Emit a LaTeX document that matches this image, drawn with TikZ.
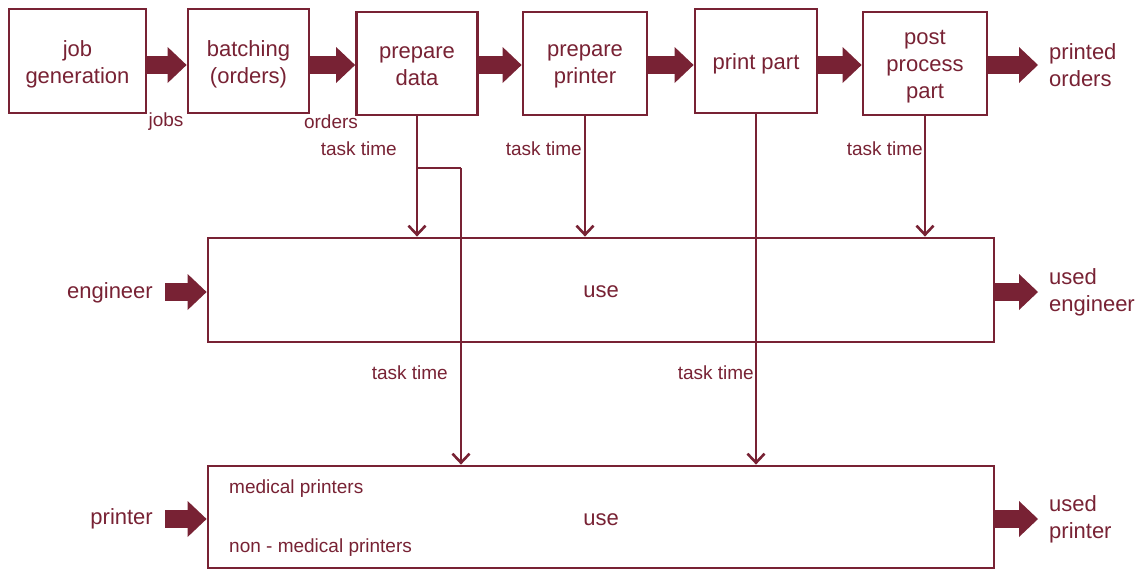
\documentclass[tikz,border=0pt]{standalone}
\usepackage{fontspec}
\setmainfont{Liberation Sans}
\usetikzlibrary{arrows.meta}
\definecolor{mar}{RGB}{120,34,52}
\tikzset{
  box/.style={draw=mar, line width=2.8pt, fill=white, inner sep=0pt},
  boxtext/.style={text=mar, align=center, font=\fontsize{22}{27}\selectfont, inner sep=0pt},
  boxt/.style={box, label={[boxtext, yshift=-3pt]center:#1}},
  lbl/.style={text=mar, font=\fontsize{22}{27}\selectfont, inner sep=0pt, align=left},
  small/.style={text=mar, font=\fontsize{19}{22}\selectfont, inner sep=0pt},
  fat/.style={draw=mar, line width=18pt, -{Triangle[width=36pt,length=19pt,line width=0pt]}},
  tarr/.style={draw=mar, line width=2.8pt, -{Straight Barb[length=9pt,width=17pt,line width=2.6pt]}}
}
\begin{document}
\begin{tikzpicture}[x=1pt,y=-1pt]
\useasboundingbox (0,0) rectangle (1146,570);
% top row
\node[boxt={job\\generation}, minimum width=137pt, minimum height=104pt] (jg) at (77.5,61) {};
\node[boxt={batching\\(orders)}, minimum width=121pt, minimum height=104pt] (bat) at (248.5,61) {};
\node[boxt={prepare\\data}, minimum width=121pt, minimum height=103pt] (pd) at (417,63.5) {};
\node[boxt={prepare\\printer}, minimum width=124pt, minimum height=103pt] (pp) at (585,63.5) {};
\node[boxt={print part}, minimum width=122pt, minimum height=104pt] (prt) at (756,61) {};
\node[boxt={post\\process\\part}, minimum width=124pt, minimum height=103pt] (post) at (925,63.5) {};
\node[lbl, anchor=west] (po) at (1049,65) {printed\\orders};
% use boxes
\node[box, minimum width=786pt, minimum height=104pt] (eng) at (601,290) {};
\node[boxtext] (use1) at (601,292) {use};
\node[box, minimum width=786pt, minimum height=102pt] (prn) at (601,517) {};
\node[boxtext] (use2) at (601,520) {use};
\node[small, anchor=west] (med) at (229,489) {medical printers};
\node[small, anchor=west] (nmed) at (229,548) {non - medical printers};
% side labels
\node[lbl, anchor=east] (engt) at (153,293) {engineer};
\node[lbl, anchor=east] (prnt) at (153,519) {printer};
\node[lbl, anchor=west] (ueng) at (1049,292) {used\\engineer};
\node[lbl, anchor=west] (uprn) at (1049,519) {used\\printer};
% fat arrows
\coordinate (ay) at (0,65);
\draw[fat] (jg.east |- ay) -- (bat.west |- ay);
\draw[fat] (bat.east |- ay) -- (pd.west |- ay);
\draw[fat] (pd.east |- ay) -- (pp.west |- ay);
\draw[fat] (pp.east |- ay) -- (prt.west |- ay);
\draw[fat] (prt.east |- ay) -- (post.west |- ay);
\coordinate (poa) at (1038,65);
\draw[fat] (post.east |- ay) -- (poa);
\coordinate (ea) at (165,292);
\draw[fat] (ea) -- (eng.west |- ea);
\coordinate (pa) at (165,519);
\draw[fat] (pa) -- (prn.west |- pa);
\coordinate (uea) at (1038,292);
\draw[fat] (eng.east |- uea) -- (uea);
\coordinate (upa) at (1038,519);
\draw[fat] (prn.east |- upa) -- (upa);
% thin arrows
\draw[tarr] (pd.south) -- (pd.south |- eng.north);
\coordinate (br) at (pd.south |- 0,168);
\coordinate (brx) at (461,168);
\draw[line width=2.8pt, draw=mar] (br) -- (brx);
\draw[tarr] (brx) -- (brx |- prn.north);
\draw[tarr] (pp.south) -- (pp.south |- eng.north);
\draw[tarr] (prt.south) -- (prt.south |- prn.north);
\draw[tarr] (post.south) -- (post.south |- eng.north);
% labels
\node[small] (jobs) at (166,122) {jobs};
\node[small] (ord) at (331,122) {orders};
\node[small, anchor=east] (tt1) at (397,149) {task time};
\node[small, anchor=east] (tt2) at (582,149) {task time};
\node[small, anchor=east] (tt3) at (923,149) {task time};
\node[small, anchor=east] (tt4) at (448,373) {task time};
\node[small, anchor=east] (tt5) at (754,373) {task time};
\end{tikzpicture}
\end{document}
